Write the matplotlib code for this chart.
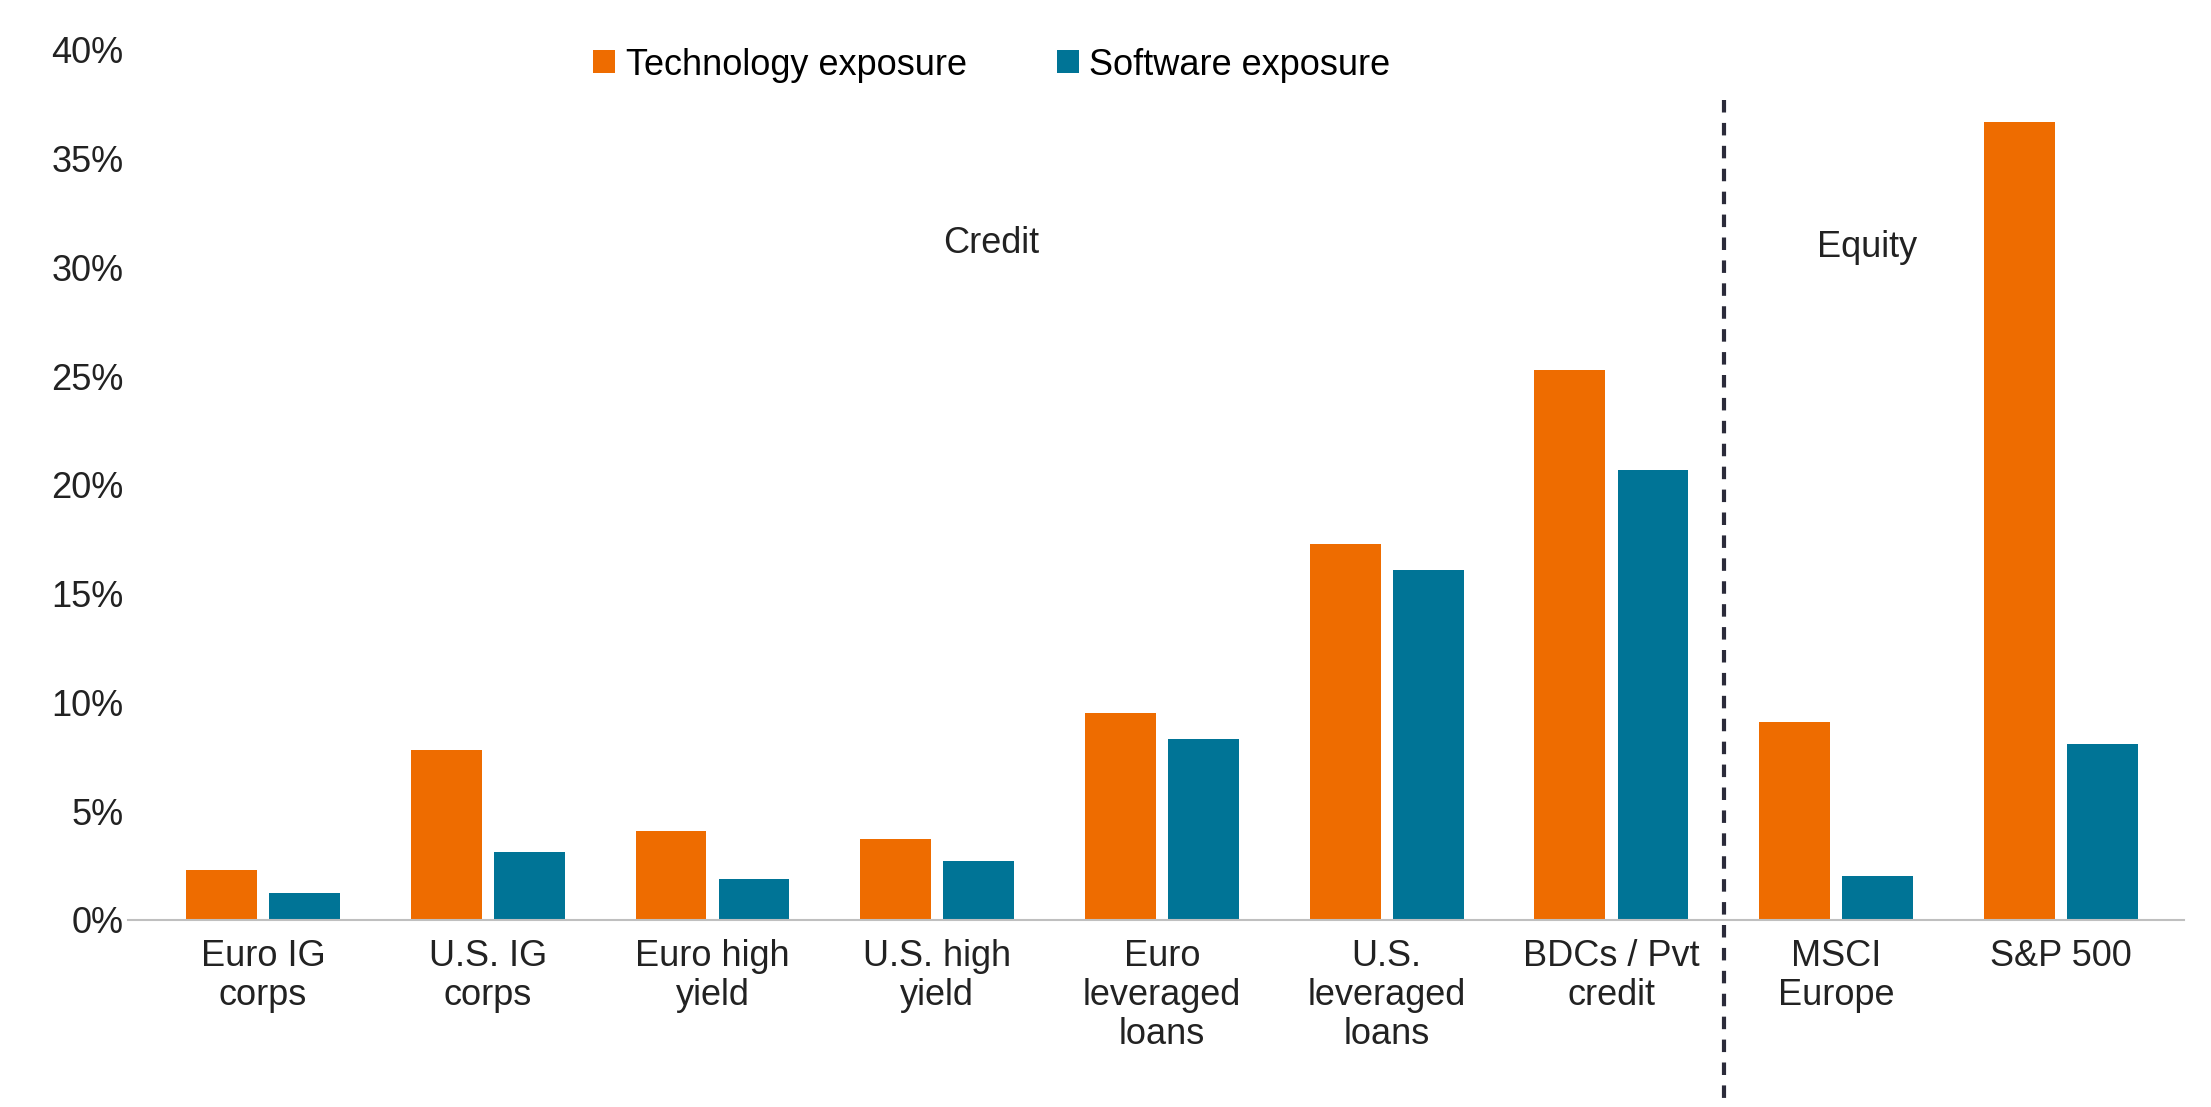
import matplotlib.pyplot as plt
import numpy as np

categories = ["Euro IG\ncorps", "U.S. IG\ncorps", "Euro high\nyield", "U.S. high\nyield",
              "Euro\nleveraged\nloans", "U.S.\nleveraged\nloans", "BDCs / Pvt\ncredit",
              "MSCI\nEurope", "S&P 500"]
tech = [2.3, 7.8, 4.1, 3.7, 9.5, 17.3, 25.3, 9.1, 36.7]
software = [1.25, 3.1, 1.9, 2.7, 8.3, 16.1, 20.7, 2.0, 8.1]

plt.rcParams['font.family'] = ['Liberation Sans', 'DejaVu Sans']
fig = plt.figure(figsize=(22.11, 11.07), dpi=100)
ax = fig.add_axes([0.058, 0.169, 0.93, 0.786])

x = np.arange(len(categories))
w = 0.315
ax.bar(x - 0.185, tech, w, color='#EE6C00', label='Technology exposure')
ax.bar(x + 0.185, software, w, color='#007496', label='Software exposure')

ax.set_ylim(0, 40)
ax.set_xlim(-0.6, 8.55)
ax.set_yticks(range(0, 41, 5))
ax.set_yticklabels([f"{v}%" for v in range(0, 41, 5)])
ax.set_xticks(x)
ax.set_xticklabels(categories, linespacing=1.15)
ax.tick_params(axis='both', labelsize=26, length=0, colors='#222222')
ax.tick_params(axis='x', pad=14)
for s in ['top', 'right', 'left']:
    ax.spines[s].set_visible(False)
ax.spines['bottom'].set_color('#BFBFBF')
ax.spines['bottom'].set_linewidth(1.5)

ax.plot([6.5, 6.5], [37.7, -8.2], color='#2B2B3A', linestyle=(0, (3, 2.5)),
        linewidth=3, clip_on=False)
ax.text(3.24, 31.1, "Credit", fontsize=26, ha='center', va='center', color='#222222')
ax.text(7.14, 30.9, "Equity", fontsize=26, ha='center', va='center', color='#222222')

ax.legend(loc='upper center', bbox_to_anchor=(0.42, 1.04), ncol=2, frameon=False,
          fontsize=26, handlelength=0.6, handleheight=0.6, handletextpad=0.3,
          columnspacing=2.5)

fig.savefig("out.png", dpi=100)
